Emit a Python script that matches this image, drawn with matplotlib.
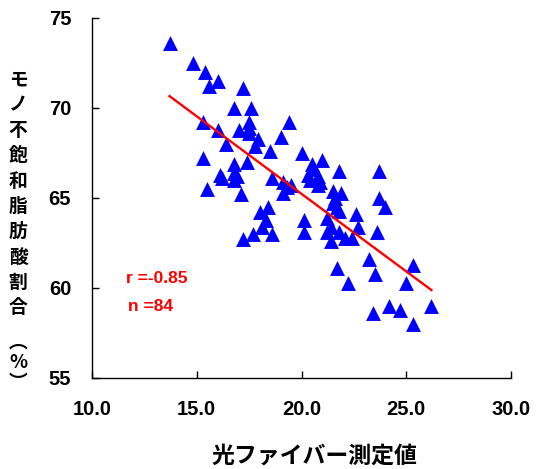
import numpy as np
import matplotlib
matplotlib.use("Agg")
import matplotlib.pyplot as plt

plt.rcParams['font.family'] = ['Liberation Sans', 'Noto Sans CJK JP', 'DejaVu Sans']

# Data
fiber = [13.7, 14.8, 15.4, 15.6, 16.0, 17.2, 16.8, 17.6, 15.3, 16.0,
         17.0, 17.5, 17.5, 16.4, 17.8, 18.5, 19.4, 19.0, 20.0, 20.5,
         15.3, 16.8, 17.4, 16.1, 16.8, 16.8, 18.6, 19.1, 19.5, 15.5,
         17.1, 19.1, 20.3, 21.0, 21.8, 20.8, 20.8, 21.5, 21.9, 21.5,
         21.7, 23.7, 23.7, 24.0, 18.0, 18.4, 18.1, 17.7, 17.2, 18.6,
         20.1, 20.1, 21.2, 22.6, 21.2, 21.8, 22.7, 23.6, 22.4, 21.4,
         23.2, 21.7, 23.5, 22.2, 25.3, 25.0, 26.2, 23.4, 24.2, 24.7,
         25.3, 20.6, 21.6, 21.4, 17.5, 16.9, 22.1, 20.9, 17.9, 19.3,
         18.3, 20.4, 21.8, 16.2]
mufa = [73.6, 72.5, 72.0, 71.2, 71.5, 71.1, 70.0, 70.0, 69.2, 68.8,
        68.8, 69.2, 68.6, 68.0, 67.9, 67.6, 69.2, 68.4, 67.5, 66.9,
        67.2, 66.9, 67.0, 66.3, 66.4, 66.0, 66.1, 65.9, 65.7, 65.5,
        65.2, 65.3, 66.3, 67.1, 66.5, 66.2, 65.7, 65.4, 65.3, 64.7,
        64.5, 66.5, 65.0, 64.5, 64.2, 64.5, 63.4, 63.0, 62.7, 63.0,
        63.8, 63.1, 63.9, 64.1, 63.1, 63.1, 63.4, 63.1, 62.8, 62.6,
        61.6, 61.1, 60.8, 60.3, 61.3, 60.3, 59.0, 58.6, 59.0, 58.8,
        58.0, 66.6, 65.0, 63.4, 68.9, 66.2, 62.8, 65.9, 68.3, 65.6,
        63.8, 66.0, 64.3, 66.1]

x_ticks = [10.0, 15.0, 20.0, 25.0, 30.0]
y_ticks = [55, 60, 65, 70, 75]
x_label = "光ファイバー測定値"
y_label_chars = ["モ", "ノ", "不", "飽", "和", "脂", "肪", "酸", "割", "合"]
y_label_paren = ["︵", "%", "︶"]
stat_r = "r =-0.85"
stat_n = "n =84"

fig = plt.figure(figsize=(5.36, 4.69), dpi=100)
ax = fig.add_axes([92/536, 1-378/469, (511-92)/536, (378-18)/469])

ax.scatter(fiber, mufa, marker='^', s=115, color='#0000FF', linewidths=0, zorder=3)

coef = np.polyfit(fiber, mufa, 1)
xl = np.array([min(fiber), max(fiber)])
ax.plot(xl, np.polyval(coef, xl), color='#FF0000', lw=1.7, zorder=4)

ax.set_xlim(10, 30)
ax.set_ylim(55, 75)
ax.set_xticks(x_ticks)
ax.set_xticklabels([f"{v:.1f}" for v in x_ticks])
ax.set_yticks(y_ticks)
ax.set_yticklabels([str(v) for v in y_ticks])
for s in ['top', 'right']:
    ax.spines[s].set_visible(False)
for s in ['left', 'bottom']:
    ax.spines[s].set_color('black')
    ax.spines[s].set_linewidth(1.0)
ax.tick_params(direction='in', length=5, width=1, labelsize=14.5)
ax.tick_params(axis='x', pad=16)
ax.tick_params(axis='y', pad=15)
for lab in ax.get_xticklabels() + ax.get_yticklabels():
    lab.set_fontweight('bold')

ax.text(11.6, 60.55, stat_r, color='#FF0000', fontsize=12.5, fontweight='bold',
        ha='left', va='center')
ax.text(11.7, 58.95, stat_n, color='#FF0000', fontsize=12.5, fontweight='bold',
        ha='left', va='center')

fig.text(314/536, 1-456/469, x_label, ha='center', va='center', fontsize=16.5,
         fontweight='bold', family=['Noto Sans CJK JP', 'DejaVu Sans'])

for i, ch in enumerate(y_label_chars):
    ypx = 80 + i * 25.3
    fig.text(18/536, 1-ypx/469, ch, ha='center', va='center', fontsize=13.5,
             fontweight='bold', family=['Noto Sans CJK JP', 'DejaVu Sans'])
for ch, ypx in zip(y_label_paren, [342, 362, 382]):
    fig.text(18/536, 1-ypx/469, ch, ha='center', va='center', fontsize=13.5,
             fontweight='bold', family=['Noto Sans CJK JP', 'DejaVu Sans'])

fig.savefig("out.png", dpi=100)
